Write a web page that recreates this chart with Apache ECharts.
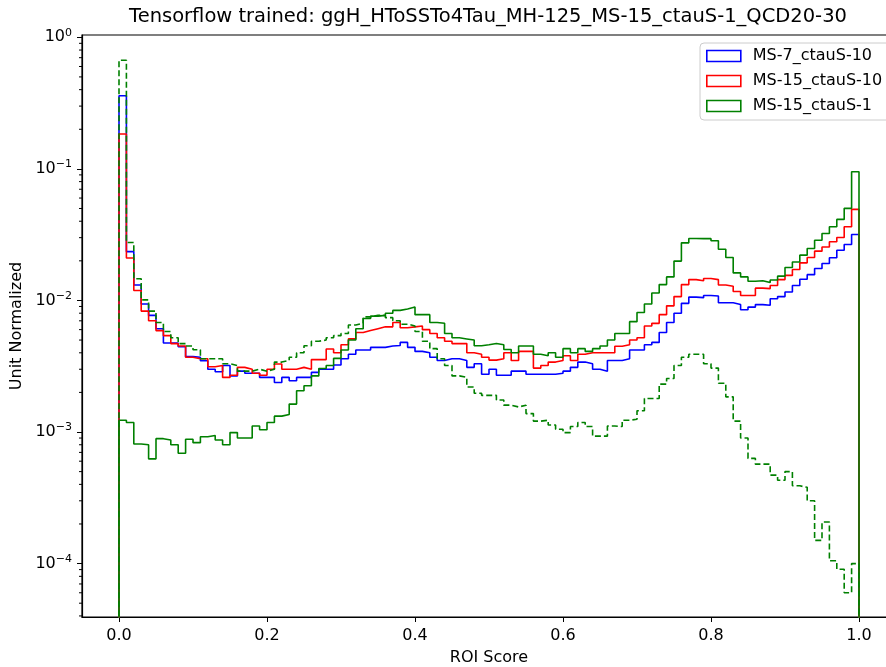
<!DOCTYPE html>
<html>
<head>
<meta charset="utf-8">
<script src="https://cdn.jsdelivr.net/npm/echarts@6/dist/echarts.min.js"></script>
<style>
  html, body { margin: 0; padding: 0; background: #fff; overflow: hidden; }
  #chart { width: 886px; height: 667px; }
</style>
</head>
<body>
<div id="chart"></div>
<script>
// histogram contents, 100 bins of width 0.01 on [0, 1]
var binWidth = 0.01;

var ms7_ctau10 = [
  0.36, 0.0235, 0.0131, 0.0094, 0.0077, 0.0061, 0.00475, 0.00475, 0.00445, 0.00374,
  0.0037, 0.00348, 0.0030, 0.00287, 0.0032, 0.00267, 0.0029, 0.0028, 0.0028, 0.0026,
  0.0026, 0.00238, 0.0026, 0.00245, 0.0026, 0.0026, 0.00284, 0.0030, 0.0030, 0.00323,
  0.0036, 0.0039, 0.0042, 0.0042, 0.0044, 0.0044, 0.0045, 0.00455, 0.0048, 0.0044,
  0.0041, 0.0040, 0.0037, 0.0035, 0.0036, 0.0036, 0.0035, 0.0031, 0.0033, 0.00275,
  0.0030, 0.0027, 0.0027, 0.0029, 0.0029, 0.00275, 0.00275, 0.00275, 0.00275, 0.0028,
  0.0029, 0.0031, 0.0034, 0.0033, 0.0030, 0.0029, 0.0035, 0.0035, 0.0036, 0.0042,
  0.0042, 0.0046, 0.0048, 0.0057, 0.0068, 0.0080, 0.0095, 0.0106, 0.0105, 0.0109,
  0.0108, 0.0096, 0.0096, 0.0093, 0.0085, 0.0089, 0.0093, 0.0092, 0.0103, 0.0107,
  0.0116, 0.0130, 0.0145, 0.0157, 0.0175, 0.0191, 0.0211, 0.0241, 0.0266, 0.0317
];

var ms15_ctau10 = [
  0.184, 0.021, 0.0119, 0.0083, 0.0070, 0.0059, 0.0054, 0.0047, 0.0045, 0.0037,
  0.0036, 0.0036, 0.00313, 0.0032, 0.0026, 0.0027, 0.0031, 0.0030, 0.0028, 0.0027,
  0.0030, 0.00329, 0.0030, 0.0030, 0.0031, 0.0030, 0.00355, 0.00355, 0.00428, 0.0040,
  0.0046, 0.0051, 0.0057, 0.0059, 0.0061, 0.0063, 0.0063, 0.0068, 0.0062, 0.0063,
  0.0064, 0.0060, 0.0056, 0.0052, 0.0049, 0.0047, 0.0047, 0.0040, 0.0039, 0.0037,
  0.00352, 0.0036, 0.0040, 0.0035, 0.0041, 0.0041, 0.00306, 0.0032, 0.0034, 0.0035,
  0.0038, 0.0035, 0.0039, 0.0040, 0.0040, 0.0040, 0.0040, 0.00448, 0.00461, 0.0050,
  0.0052, 0.0064, 0.0067, 0.0078, 0.0091, 0.0107, 0.0132, 0.0144, 0.0141, 0.0147,
  0.0144, 0.0131, 0.0128, 0.0117, 0.0109, 0.0109, 0.0124, 0.0123, 0.0130, 0.0144,
  0.0155, 0.0172, 0.0193, 0.0212, 0.0237, 0.0255, 0.0279, 0.0301, 0.0363, 0.0492
];

var ms15_ctau1 = [
  0.00123, 0.00118, 0.00081, 0.0008, 0.000625, 0.00089, 0.00087, 0.0008, 0.00069, 0.00088,
  0.00083, 0.00092, 0.00094, 0.00087, 0.0008, 0.00099, 0.0009, 0.0009, 0.00111, 0.00104,
  0.00118, 0.00132, 0.00136, 0.00163, 0.00206, 0.00225, 0.00267, 0.00304, 0.0032, 0.00363,
  0.0042, 0.0050, 0.0061, 0.0073, 0.0076, 0.0077, 0.0080, 0.0084, 0.0086, 0.0089,
  0.0078, 0.0078, 0.0068, 0.0067, 0.0056, 0.0052, 0.0051, 0.0050, 0.00453, 0.0046,
  0.0047, 0.0046, 0.00424, 0.0040, 0.0045, 0.0045, 0.0039, 0.0038, 0.0040, 0.0037,
  0.0043, 0.0040, 0.0043, 0.0041, 0.0043, 0.0045, 0.0050, 0.0056, 0.0056, 0.0069,
  0.0081, 0.0094, 0.0114, 0.0132, 0.0151, 0.0199, 0.0274, 0.0296, 0.0295, 0.0295,
  0.0284, 0.0245, 0.0212, 0.0162, 0.0151, 0.0140, 0.0141, 0.0137, 0.0143, 0.0153,
  0.0178, 0.0196, 0.0221, 0.0248, 0.0287, 0.0323, 0.0363, 0.0413, 0.0501, 0.095
];

// dashed green histogram (QCD background)
var qcd20_30 = [
  0.67, 0.0276, 0.0146, 0.0101, 0.0083, 0.0068, 0.0058, 0.0052, 0.0047, 0.0045,
  0.00422, 0.0036, 0.0036, 0.0036, 0.0033, 0.0032, 0.0029, 0.0029, 0.0030, 0.0029,
  0.0030, 0.0034, 0.0035, 0.0037, 0.0040, 0.00453, 0.0049, 0.0050, 0.0052, 0.0054,
  0.0056, 0.0065, 0.0067, 0.0075, 0.0077, 0.0077, 0.0074, 0.0070, 0.0066, 0.0064,
  0.0058, 0.0049, 0.0043, 0.0036, 0.0032, 0.00267, 0.0026, 0.0022, 0.00197, 0.0019,
  0.0019, 0.00175, 0.0016, 0.00155, 0.0016, 0.00138, 0.00121, 0.00123, 0.00113, 0.00105,
  0.00099, 0.0011, 0.00118, 0.0011, 0.00093, 0.00093, 0.00111, 0.0011, 0.00123, 0.00125,
  0.00145, 0.0018, 0.0018, 0.00231, 0.00255, 0.0032, 0.0037, 0.0039, 0.0039, 0.0033,
  0.00306, 0.00235, 0.00185, 0.00121, 0.00090, 0.00063, 0.00057, 0.00057, 0.00047, 0.00043,
  0.00050, 0.00039, 0.00038, 0.0003, 0.00015, 0.000207, 0.000105, 0.0000905, 0.00006, 0.0001
];

var xTicks = [0, 0.2, 0.4, 0.6, 0.8, 1.0];

var FONT = 'DejaVu Sans';
var X_MIN = -0.05, X_MAX = 1.05;
var Y_MIN = Math.pow(10, -4.406), Y_MAX = Math.pow(10, 0.0175);
var FLOOR = 1e-7; // histogram outline drops to zero (below the log axis)

// turn bin contents into a step outline: up at 0, across every bin, down at 1
function stepOutline(vals) {
  var pts = [[0, FLOOR]];
  for (var i = 0; i < vals.length; i++) {
    pts.push([+(i * binWidth).toFixed(2), vals[i]]);
  }
  var last = vals[vals.length - 1];
  pts.push([+(vals.length * binWidth).toFixed(2), last]);
  pts.push([+(vals.length * binWidth).toFixed(2), FLOOR]);
  return pts;
}

// log-axis minor tick positions (2..9 x 10^n)
var minorTicks = [];
for (var e = -5; e <= 0; e++) {
  for (var k = 2; k <= 9; k++) {
    var v = k * Math.pow(10, e);
    if (v > Y_MIN && v < Y_MAX) minorTicks.push([X_MIN, v]);
  }
}

function histSeries(name, vals, color, dashed) {
  return {
    name: name,
    type: 'line',
    step: 'end',
    showSymbol: false,
    symbol: 'none',
    animation: false,
    data: stepOutline(vals),
    itemStyle: { color: color },
    lineStyle: { color: color, width: 1.6, type: dashed ? [6, 3] : 'solid' }
  };
}

var chart = echarts.init(document.getElementById('chart'), null, { renderer: 'canvas' });

var option = {
  backgroundColor: '#ffffff',
  animation: false,
  textStyle: { fontFamily: FONT },
  title: {
    text: 'Tensorflow trained: ggH_HToSSTo4Tau_MH-125_MS-15_ctauS-1_QCD20-30',
    left: 488,
    top: 7,
    padding: 0,
    textAlign: 'center',
    textStyle: { fontFamily: FONT, fontSize: 19.5, fontWeight: 'normal', color: '#000' }
  },
  legend: {
    orient: 'vertical',
    left: 700,
    top: 43,
    padding: [5, 60, 6, 6],
    itemWidth: 34,
    itemHeight: 11,
    itemGap: 9,
    backgroundColor: 'rgba(255,255,255,0.8)',
    borderColor: '#cccccc',
    borderWidth: 1,
    borderRadius: 4,
    textStyle: { fontFamily: FONT, fontSize: 16, color: '#000', lineHeight: 16, padding: [0, 0, 0, 7] },
    data: [
      { name: 'MS-7_ctauS-10', icon: 'rect', itemStyle: { color: '#ffffff', borderColor: '#0000ff', borderWidth: 1.6 } },
      { name: 'MS-15_ctauS-10', icon: 'rect', itemStyle: { color: '#ffffff', borderColor: '#ff0000', borderWidth: 1.6 } },
      { name: 'MS-15_ctauS-1', icon: 'rect', itemStyle: { color: '#ffffff', borderColor: '#008000', borderWidth: 1.6 } }
    ]
  },
  grid: {
    left: 82,
    top: 35,
    width: 814,
    height: 582,
    show: true,
    borderColor: '#000',
    borderWidth: 1.2,
    containLabel: false,
    outerBoundsMode: 'none'
  },
  xAxis: {
    type: 'value',
    min: X_MIN,
    max: X_MAX,
    name: 'ROI Score',
    nameLocation: 'middle',
    nameGap: 33,
    nameTextStyle: { fontFamily: FONT, fontSize: 16, color: '#000' },
    axisLine: { show: true, onZero: false, lineStyle: { color: '#000', width: 1.2 } },
    axisTick: { show: true, customValues: xTicks, length: 5, lineStyle: { color: '#000', width: 1 } },
    axisLabel: {
      customValues: xTicks,
      margin: 11,
      fontFamily: FONT,
      fontSize: 16,
      color: '#000',
      formatter: function (v) { return v.toFixed(1); }
    },
    splitLine: { show: false }
  },
  yAxis: {
    type: 'log',
    logBase: 10,
    min: Y_MIN,
    max: Y_MAX,
    name: 'Unit Normalized',
    nameLocation: 'middle',
    nameGap: 50,
    nameTextStyle: { fontFamily: FONT, fontSize: 16, color: '#000' },
    axisLine: { show: true, onZero: false, lineStyle: { color: '#000', width: 1.2 } },
    axisTick: { show: true, length: 5, lineStyle: { color: '#000', width: 1 } },
    axisLabel: {
      margin: 10,
      showMinLabel: false,
      showMaxLabel: false,
      color: '#000',
      formatter: function (v) {
        var lg = Math.log10(v);
        var ex = Math.round(lg);
        if (Math.abs(lg - ex) > 0.01) return '';
        var s = ex < 0 ? '\u2212' + (-ex) : String(ex);
        return '{b|10}{s|' + s + '}';
      },
      rich: {
        b: { fontFamily: FONT, fontSize: 16, lineHeight: 20, color: '#000' },
        s: { fontFamily: FONT, fontSize: 11, lineHeight: 11, verticalAlign: 'top', color: '#000' }
      }
    },
    splitLine: { show: false }
  },
  series: [
    histSeries('MS-7_ctauS-10', ms7_ctau10, '#0000ff', false),
    histSeries('MS-15_ctauS-10', ms15_ctau10, '#ff0000', false),
    histSeries('MS-15_ctauS-1', ms15_ctau1, '#008000', false),
    histSeries('QCD20-30', qcd20_30, '#008000', true),
    {
      // short minor ticks on the log axis
      type: 'custom',
      name: 'minorTicks',
      silent: true,
      animation: false,
      clip: false,
      data: minorTicks,
      renderItem: function (params, api) {
        var p = api.coord([api.value(0), api.value(1)]);
        return {
          type: 'line',
          shape: { x1: p[0] - 3, y1: p[1], x2: p[0], y2: p[1] },
          style: { stroke: '#000', lineWidth: 1 }
        };
      }
    }
  ]
};

chart.setOption(option);
</script>
</body>
</html>
